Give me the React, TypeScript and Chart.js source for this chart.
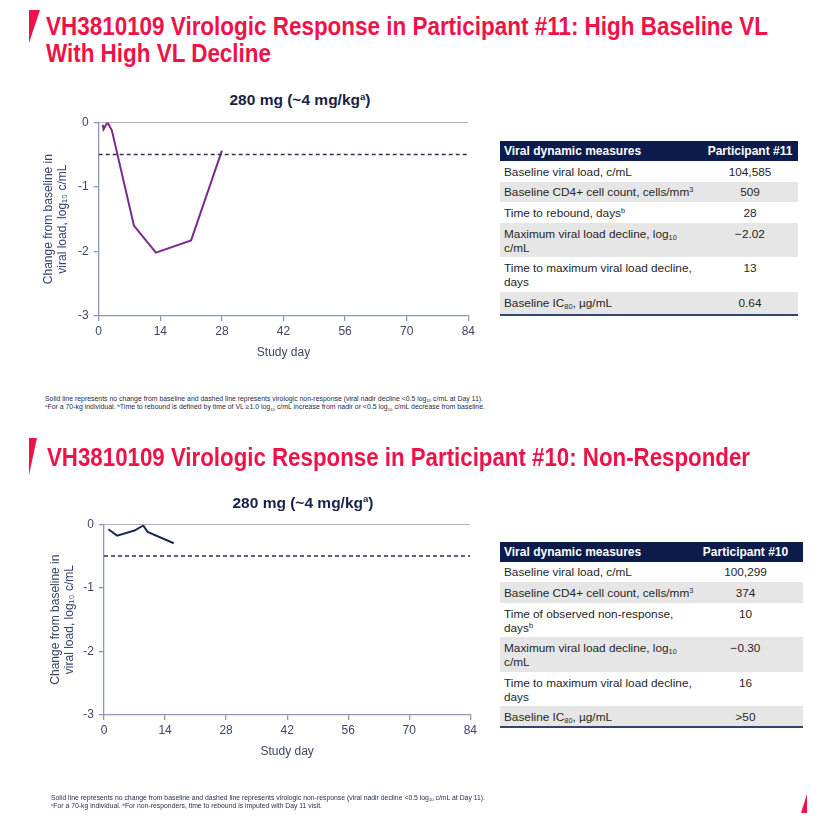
import React, { useEffect, useLayoutEffect, useRef } from "react";
import { Chart, registerables } from "chart.js";

Chart.register(...registerables);

// ---------- data ----------
const xTickDays = [0, 14, 28, 42, 56, 70, 84];
const yTickValues = [0, -1, -2, -3];
const baselineChange = 0;
const nonResponseThreshold = -0.5;

const p11Days = [0.9, 1.1, 2, 3, 8, 13, 21, 28];
const p11Change = [-0.04, -0.11, 0, -0.13, -1.6, -2.02, -1.83, -0.44];

const p10Days = [1, 3, 7, 9, 10, 16];
const p10Change = [-0.08, -0.18, -0.1, -0.02, -0.12, -0.3];

const tableHeader = "Viral dynamic measures";
const p11Labels = [
  "Baseline viral load, c/mL",
  "Baseline CD4+ cell count, cells/mm^{3}",
  "Time to rebound, days^{b}",
  "Maximum viral load decline, log_{10}\nc/mL",
  "Time to maximum viral load decline,\ndays",
  "Baseline IC_{80}, µg/mL",
];
const p11Values = ["104,585", "509", "28", "\u22122.02", "13", "0.64"];

const p10Labels = [
  "Baseline viral load, c/mL",
  "Baseline CD4+ cell count, cells/mm^{3}",
  "Time of observed non-response,\ndays^{b}",
  "Maximum viral load decline, log_{10}\nc/mL",
  "Time to maximum viral load decline,\ndays",
  "Baseline IC_{80}, µg/mL",
];
const p10Values = ["100,299", "374", "10", "\u22120.30", "16", ">50"];

// ---------- styles ----------
const RED = "#EF1249";
const NAVY = "#0B1B4B";
const AXIS = "#8C99B4";
const TICK_TEXT = "#3A4666";
const SANS = '"Liberation Sans", Arial, Helvetica, sans-serif';
const NARROW = '"Liberation Sans Narrow", "Liberation Sans", Arial, sans-serif';

function rich(s: string) {
  const lines = s.split("\n");
  return lines.map((line, li) => {
    const parts: React.ReactNode[] = [];
    const re = /(\^|_)\{([^}]*)\}/g;
    let last = 0;
    let m: RegExpExecArray | null;
    let k = 0;
    while ((m = re.exec(line))) {
      if (m.index > last) parts.push(line.slice(last, m.index));
      const isSup = m[1] === "^";
      parts.push(
        <span
          key={k++}
          style={{
            fontSize: "0.62em",
            position: "relative",
            top: isSup ? "-0.55em" : "0.3em",
            lineHeight: 0,
          }}
        >
          {m[2]}
        </span>
      );
      last = m.index + m[0].length;
    }
    if (last < line.length) parts.push(line.slice(last));
    return (
      <React.Fragment key={li}>
        {li > 0 && <br />}
        {parts}
      </React.Fragment>
    );
  });
}

function Fit({
  left,
  top,
  width,
  style,
  children,
}: {
  left: number;
  top: number;
  width: number;
  style: React.CSSProperties;
  children: React.ReactNode;
}) {
  const ref = useRef<HTMLSpanElement>(null);
  useLayoutEffect(() => {
    const fit = () => {
      const el = ref.current;
      if (!el) return;
      el.style.transform = "none";
      const w = el.getBoundingClientRect().width;
      if (w > 0) el.style.transform = `scaleX(${width / w})`;
    };
    fit();
    if ((document as any).fonts) (document as any).fonts.ready.then(fit);
  }, [width]);
  return (
    <span
      ref={ref}
      style={{
        position: "absolute",
        left,
        top,
        whiteSpace: "nowrap",
        transformOrigin: "0 0",
        ...style,
      }}
    >
      {children}
    </span>
  );
}

function VLChart(props: {
  days: number[];
  change: number[];
  color: string;
  left: number;
  top: number;
  width: number;
  height: number;
  yWidth: number;
  xHeight: number;
  padTop: number;
  padRight: number;
}) {
  const ref = useRef<HTMLCanvasElement>(null);
  useEffect(() => {
    const { days, change, color, yWidth, xHeight, padTop, padRight } = props;
    const x0 = xTickDays[0];
    const x1 = xTickDays[xTickDays.length - 1];
    const tickFont = { family: SANS, size: 12 };
    const chart = new Chart(ref.current as HTMLCanvasElement, {
      type: "line",
      data: {
        datasets: [
          {
            data: [
              { x: x0, y: baselineChange },
              { x: x1, y: baselineChange },
            ],
            borderColor: AXIS,
            borderWidth: 1.6,
            pointRadius: 0,
          },
          {
            data: [
              { x: x0, y: nonResponseThreshold },
              { x: x1, y: nonResponseThreshold },
            ],
            borderColor: "#24345C",
            borderWidth: 1.3,
            borderDash: [4, 3],
            pointRadius: 0,
          },
          {
            data: days.map((d, i) => ({ x: d, y: change[i] })),
            borderColor: color,
            borderWidth: 2,
            pointRadius: 0,
            tension: 0,
          },
        ],
      },
      options: {
        responsive: false,
        animation: false,
        devicePixelRatio: 1,
        layout: { padding: { top: padTop, right: padRight, left: 0, bottom: 0 } },
        plugins: {
          legend: { display: false },
          tooltip: { enabled: false },
        },
        scales: {
          x: {
            type: "linear",
            min: x0,
            max: x1,
            afterBuildTicks: (s: any) => {
              s.ticks = xTickDays.map((v) => ({ value: v }));
            },
            afterFit: (s: any) => {
              s.height = xHeight;
            },
            ticks: {
              font: tickFont,
              color: TICK_TEXT,
              padding: 3,
              maxRotation: 0,
              autoSkip: false,
            },
            grid: {
              drawOnChartArea: false,
              drawTicks: true,
              tickLength: 5,
              color: AXIS,
              lineWidth: 1.3,
            },
            border: { display: true, color: AXIS, width: 1.3 },
            title: {
              display: true,
              text: "Study day",
              color: TICK_TEXT,
              font: { family: SANS, size: 12 },
              padding: { top: 0, bottom: 0 },
            },
          },
          y: {
            type: "linear",
            min: yTickValues[yTickValues.length - 1],
            max: yTickValues[0],
            afterBuildTicks: (s: any) => {
              s.ticks = yTickValues.map((v) => ({ value: v }));
            },
            afterFit: (s: any) => {
              s.width = yWidth;
            },
            ticks: { font: tickFont, color: TICK_TEXT, padding: 5 },
            grid: {
              drawOnChartArea: false,
              drawTicks: true,
              tickLength: 5,
              color: AXIS,
              lineWidth: 1.3,
            },
            border: { display: true, color: AXIS, width: 1.3 },
            title: {
              display: true,
              text: ["Change from baseline in", "viral load, log\u2081\u2080 c/mL"],
              color: "#34436A",
              font: { family: SANS, size: 12 },
              padding: { top: 3, bottom: 0 },
            },
          },
        },
      },
    } as any);
    return () => chart.destroy();
  }, []);
  return (
    <canvas
      ref={ref}
      width={props.width}
      height={props.height}
      style={{
        position: "absolute",
        left: props.left,
        top: props.top,
        width: props.width,
        height: props.height,
      }}
    />
  );
}

function Wedge({ pts }: { pts: string }) {
  return (
    <svg
      width={825}
      height={830}
      style={{ position: "absolute", left: 0, top: 0, pointerEvents: "none" }}
    >
      <polygon points={pts} fill={RED} />
    </svg>
  );
}

function MeasuresTable(props: {
  left: number;
  top: number;
  col1: number;
  col2: number;
  lastRow: number;
  participant: string;
  labels: string[];
  values: string[];
}) {
  const { left, top, col1, col2, lastRow, participant, labels, values } = props;
  return (
    <table
      style={{
        position: "absolute",
        left,
        top,
        width: col1 + col2,
        borderCollapse: "collapse",
        tableLayout: "fixed",
        fontFamily: SANS,
        fontSize: 11.8,
        color: "#262626",
        borderBottom: "2px solid #33446E",
      }}
    >
      <colgroup>
        <col style={{ width: col1 }} />
        <col style={{ width: col2 }} />
      </colgroup>
      <thead>
        <tr style={{ height: 20, background: NAVY, color: "#fff" }}>
          <th
            style={{
              textAlign: "left",
              padding: "0 0 0 4px",
              fontSize: 12,
              fontWeight: "bold",
              lineHeight: "14px",
            }}
          >
            {tableHeader}
          </th>
          <th
            style={{
              textAlign: "center",
              padding: 0,
              fontSize: 12,
              fontWeight: "bold",
              lineHeight: "14px",
            }}
          >
            {participant}
          </th>
        </tr>
      </thead>
      <tbody>
        {labels.map((lab, i) => {
          const lines = lab.split("\n").length;
          const h = i === labels.length - 1 ? lastRow : lines > 1 ? 34.4 : 20.7;
          return (
            <tr
              key={i}
              style={{ height: h, background: i % 2 === 1 ? "#E6E6E6" : "#FFFFFF" }}
            >
              <td
                style={{
                  verticalAlign: "top",
                  padding: "3.8px 0 0 4px",
                  lineHeight: "14px",
                  whiteSpace: "nowrap",
                }}
              >
                {rich(lab)}
              </td>
              <td
                style={{
                  verticalAlign: "top",
                  padding: "3.8px 0 0 0",
                  lineHeight: "14px",
                  textAlign: "center",
                }}
              >
                {values[i]}
              </td>
            </tr>
          );
        })}
      </tbody>
    </table>
  );
}

const titleStyle: React.CSSProperties = {
  fontFamily: NARROW,
  fontWeight: "bold",
  fontSize: 25,
  lineHeight: "25px",
  color: RED,
};

const chartTitleStyle: React.CSSProperties = {
  position: "absolute",
  fontFamily: SANS,
  fontWeight: "bold",
  fontSize: 15.5,
  color: "#17224A",
  whiteSpace: "nowrap",
  transform: "translate(-50%, -50%)",
  lineHeight: "18px",
};

const footStyle: React.CSSProperties = {
  fontFamily: NARROW,
  fontSize: 7,
  lineHeight: "8.7px",
  color: "#1E2A4A",
};

export default function App() {
  return (
    <div
      style={{
        position: "absolute",
        left: 0,
        top: 0,
        width: 825,
        height: 830,
        background: "#fff",
        overflow: "hidden",
      }}
    >
      <Wedge pts="29,10 40,10 29,43" />
      <Fit left={46} top={13.8} width={722} style={titleStyle}>
        VH3810109 Virologic Response in Participant #11: High Baseline VL
      </Fit>
      <Fit left={46} top={40.5} width={225} style={titleStyle}>
        With High VL Decline
      </Fit>

      <div style={{ ...chartTitleStyle, left: 300, top: 101 }}>
        280 mg (~4 mg/kg
        <span style={{ fontSize: "0.62em", position: "relative", top: "-0.55em" }}>a</span>)
      </div>
      <VLChart
        days={p11Days}
        change={p11Change}
        color="#7A2B8C"
        left={38}
        top={110}
        width={440}
        height={250}
        yWidth={60.7}
        xHeight={44}
        padTop={11.7}
        padRight={8}
      />
      <MeasuresTable
        left={500}
        top={141}
        col1={202}
        col2={96}
        lastRow={23.5}
        participant="Participant #11"
        labels={p11Labels}
        values={p11Values}
      />
      <Fit left={45} top={394.7} width={438} style={footStyle}>
        Solid line represents no change from baseline and dashed line represents virologic
        non-response (viral nadir decline &lt;0.5 log{rich("_{10}")} c/mL at Day 11).
      </Fit>
      <Fit left={45} top={403.4} width={440} style={footStyle}>
        {rich("^{a}")}For a 70-kg individual. {rich("^{b}")}Time to rebound is defined by time of
        VL ≥1.0 log{rich("_{10}")} c/mL increase from nadir or &lt;0.5 log{rich("_{10}")} c/mL
        decrease from baseline.
      </Fit>

      <Wedge pts="29,438 37,438 29,475" />
      <Fit left={47} top={444.8} width={703} style={titleStyle}>
        VH3810109 Virologic Response in Participant #10: Non-Responder
      </Fit>

      <div style={{ ...chartTitleStyle, left: 303, top: 503.5 }}>
        280 mg (~4 mg/kg
        <span style={{ fontSize: "0.62em", position: "relative", top: "-0.55em" }}>a</span>)
      </div>
      <VLChart
        days={p10Days}
        change={p10Change}
        color="#1B2A4E"
        left={45}
        top={512}
        width={435}
        height={247}
        yWidth={59}
        xHeight={44}
        padTop={11.3}
        padRight={8.3}
      />
      <MeasuresTable
        left={500}
        top={541.7}
        col1={188}
        col2={115}
        lastRow={20.7}
        participant="Participant #10"
        labels={p10Labels}
        values={p10Values}
      />
      <Fit left={51} top={793.5} width={434} style={footStyle}>
        Solid line represents no change from baseline and dashed line represents virologic
        non-response (viral nadir decline &lt;0.5 log{rich("_{10}")} c/mL at Day 11).
      </Fit>
      <Fit left={51} top={802.2} width={271} style={footStyle}>
        {rich("^{a}")}For a 70-kg individual. {rich("^{b}")}For non-responders, time to rebound is
        imputed with Day 11 visit.
      </Fit>

      <Wedge pts="801,813 807,794 807,813" />
    </div>
  );
}
